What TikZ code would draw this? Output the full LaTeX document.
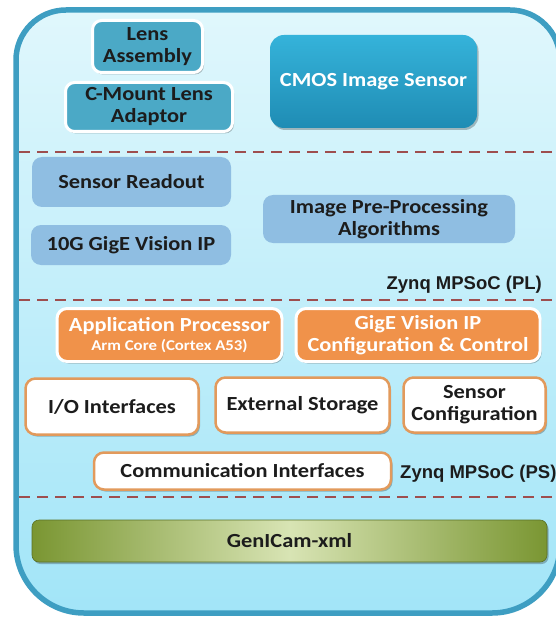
\documentclass[tikz,border=0pt]{standalone}
\usepackage{fontspec}
\setmainfont{Carlito}[FakeStretch=1.12]
\newfontfamily\zfont{Liberation Sans}
\usetikzlibrary{shadows}
\definecolor{frame}{HTML}{3E9EC2}
\definecolor{bgtop}{HTML}{E0F7FC}
\definecolor{bgbot}{HTML}{A2E5F8}
\definecolor{dashc}{HTML}{9E4E4E}
\definecolor{teal}{HTML}{4BA9C6}
\definecolor{cmostop}{HTML}{35B3DA}
\definecolor{cmosbot}{HTML}{1F8CB4}
\definecolor{steel}{HTML}{8FBEE2}
\definecolor{orng}{HTML}{F0924A}
\definecolor{orngline}{HTML}{E29A5C}
\definecolor{olive}{HTML}{7A9632}
\definecolor{olivelight}{HTML}{D8E4B4}
\definecolor{txt}{HTML}{1C1C1C}
\tikzset{
  x=1pt, y=-1pt,
  every node/.style={font=\bfseries\fontsize{20}{22}\selectfont, text=txt, align=center, inner sep=0pt},
  shad/.style={drop shadow={opacity=0.25, shadow xshift=1.5pt, shadow yshift=-2pt, fill=black}},
  tealbox/.style={fill=teal, draw=white, line width=3pt, rounded corners=9pt, shad},
  cmosbox/.style={top color=cmostop, bottom color=cmosbot, draw=none, rounded corners=14pt, text=white, shad},
  steelbox/.style={fill=steel, draw=none, rounded corners=10pt},
  orbox/.style={fill=orng, draw=white, line width=3pt, rounded corners=10pt, text=white, shad},
  whbox/.style={fill=white, draw=orngline, line width=2.5pt, rounded corners=10pt, shad},
  greenbar/.style={left color=olive, right color=olive, middle color=olivelight, draw=olive!75!black, line width=0.6pt, rounded corners=7pt, shad},
  zlabel/.style={font=\zfont\bfseries\fontsize{18.5}{20}\selectfont},
  sep/.style={draw=dashc, line width=2.5pt, dash pattern=on 11pt off 7pt},
}
\begin{document}
\begin{tikzpicture}
\useasboundingbox (0,0) rectangle (555,620);
% outer frame
\path[top color=bgtop, bottom color=bgbot, draw=frame, line width=5.5pt]
  (16,300) [rounded corners=50pt] -- (16,10) -- (560,10) [rounded corners=68pt] -- (560,613) -- (16,613) -- cycle;
% separators
\coordinate (s1a) at (19,152); \coordinate (s1b) at (556,152);
\coordinate (s2a) at (19,300); \coordinate (s2b) at (556,300);
\coordinate (s3a) at (19,497); \coordinate (s3b) at (556,497);
\draw[sep] (s1a) -- (s1b);
\draw[sep] (s2a) -- (s2b);
\draw[sep] (s3a) -- (s3b);
% top section
\node[tealbox, minimum width=110pt, minimum height=52pt] (lens) at (147.5,46.5) {Lens\\Assembly};
\node[tealbox, minimum width=167pt, minimum height=49pt] (cmount) at (149,107) {C-Mount Lens\\Adaptor};
\node[cmosbox, minimum width=207pt, minimum height=93pt] (cmos) at (373.5,81.5) {CMOS Image Sensor};
% PL section
\node[steelbox, minimum width=199pt, minimum height=50pt] (readout) at (131.5,182) {Sensor Readout};
\node[steelbox, minimum width=200pt, minimum height=40pt] (gige10) at (131,245) {10G GigE Vision IP};
\node[steelbox, minimum width=252pt, minimum height=48pt] (prep) at (389,219) {Image Pre-Processing\\Algorithms};
\node[zlabel, anchor=east] (pl) at (542,285) {Zynq MPSoC (PL)};
% PS section
\node[orbox, minimum width=225pt, minimum height=53pt] (app) at (169.5,335) {Application Processor\\[-3pt]{\fontsize{15}{16}\selectfont Arm Core (Cortex A53)}};
\node[orbox, minimum width=244pt, minimum height=53pt] (gcfg) at (418,335) {GigE Vision IP\\Configuration \& Control};
\node[whbox, minimum width=173pt, minimum height=56pt] (io) at (112,406.5) {I/O Interfaces};
\node[whbox, minimum width=174pt, minimum height=55pt] (ext) at (302.5,405) {External Storage};
\node[whbox, minimum width=142pt, minimum height=55pt] (scfg) at (474.5,405) {Sensor\\Configuration};
\node[whbox, minimum width=297pt, minimum height=37pt] (comm) at (242.5,471) {Communication Interfaces};
\node[zlabel, anchor=west] (ps) at (400,474) {Zynq MPSoC (PS)};
% GenICam
\node[greenbar, minimum width=515pt, minimum height=42pt] (genicam) at (289.5,541) {GenICam-xml};
\end{tikzpicture}
\end{document}
